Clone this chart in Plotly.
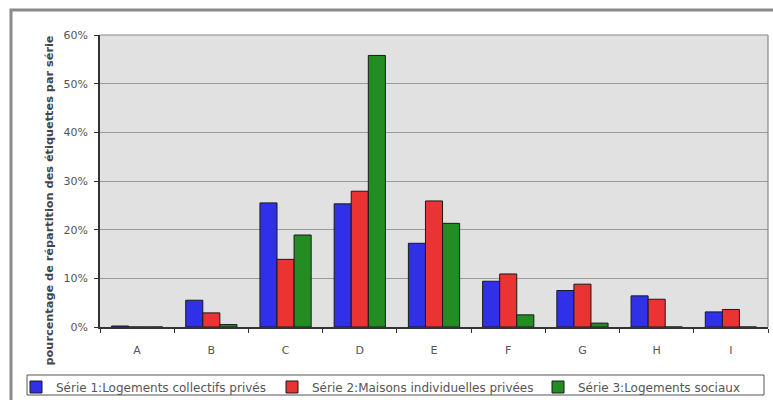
import plotly.graph_objects as go

categories = ["A", "B", "C", "D", "E", "F", "G", "H", "I"]
serie1 = [0.2, 5.5, 25.5, 25.3, 17.2, 9.4, 7.5, 6.4, 3.1]
serie2 = [0.0, 2.9, 13.9, 27.9, 25.9, 10.9, 8.8, 5.7, 3.6]
serie3 = [0.0, 0.5, 18.9, 55.8, 21.3, 2.5, 0.8, 0.0, 0.0]
names = [
    "Série 1:Logements collectifs privés",
    "Série 2:Maisons individuelles privées",
    "Série 3:Logements sociaux",
]
colors = ["#3030e8", "#ea3434", "#238c23"]
y_ticks = [0, 10, 20, 30, 40, 50, 60]

W, H = 773, 400
L, R, T, B = 100, 5, 35, 73
pw, ph = W - L - R, H - T - B


def px(x):
    return (x - L) / pw


def py(y):
    return (H - B - y) / ph


font_main = "DejaVu Sans, Arial, sans-serif"
legend_ids = ["legend", "legend2", "legend3"]
legend_left = [16, 272, 538]

fig = go.Figure()
for vals, name, col, lid in zip([serie1, serie2, serie3], names, colors, legend_ids):
    fig.add_trace(go.Bar(
        x=categories, y=vals, name=name, legend=lid,
        marker=dict(color=col, line=dict(color="#1a1a1a", width=1)),
    ))

legend_style = dict(
    orientation="h", xanchor="left", yanchor="middle",
    bgcolor="rgba(0,0,0,0)", borderwidth=0,
    font=dict(size=12, color="#555", family=font_main),
)
legends = {
    lid: dict(legend_style, x=px(xl), y=py(387))
    for lid, xl in zip(legend_ids, legend_left)
}

fig.update_layout(
    width=W, height=H,
    margin=dict(l=L, r=R, t=T, b=B, autoexpand=False),
    paper_bgcolor="white",
    plot_bgcolor="#e1e1e1",
    barmode="group",
    bargap=0.31,
    bargroupgap=0,
    font=dict(family=font_main, size=11, color="#555"),
    showlegend=True,
    **legends,
    xaxis=dict(
        showgrid=False, ticks="outside", tickson="boundaries", ticklen=4,
        tickcolor="#333", linecolor="#333", linewidth=1.5, mirror=False,
        tickfont=dict(size=11, color="#555"), ticklabelstandoff=12,
        automargin=False,
    ),
    yaxis=dict(
        range=[0, 60], tickvals=y_ticks,
        ticktext=[f"{v}%" for v in y_ticks],
        showgrid=True, gridcolor="#9a9a9a", gridwidth=1,
        ticks="outside", ticklen=4, tickcolor="#333",
        linecolor="#333", linewidth=1.5, zeroline=False,
        tickfont=dict(size=11, color="#555"), ticklabelstandoff=4,
        automargin=False,
    ),
    shapes=[
        # outer chart frame
        dict(type="rect", xref="paper", yref="paper",
             x0=px(11), x1=px(780), y0=py(410), y1=py(10),
             line=dict(color="#8a8a8a", width=3), layer="below"),
        # plot area border (top and right)
        dict(type="line", xref="paper", yref="paper", x0=0, x1=1, y0=1, y1=1,
             line=dict(color="#888", width=1.2)),
        dict(type="line", xref="paper", yref="paper", x0=1, x1=1, y0=0, y1=1,
             line=dict(color="#888", width=1.2)),
        # legend box
        dict(type="rect", xref="paper", yref="paper",
             x0=px(27), x1=px(764), y0=py(395), y1=py(375),
             line=dict(color="#555", width=1)),
    ],
    annotations=[
        dict(text="<b>pourcentage de répartition des étiquettes par série</b>",
             xref="paper", yref="paper", x=px(40), y=py(201),
             textangle=-90, showarrow=False,
             font=dict(size=11.3, color="#444", family=font_main)),
    ],
)

fig.write_html("out.html")
